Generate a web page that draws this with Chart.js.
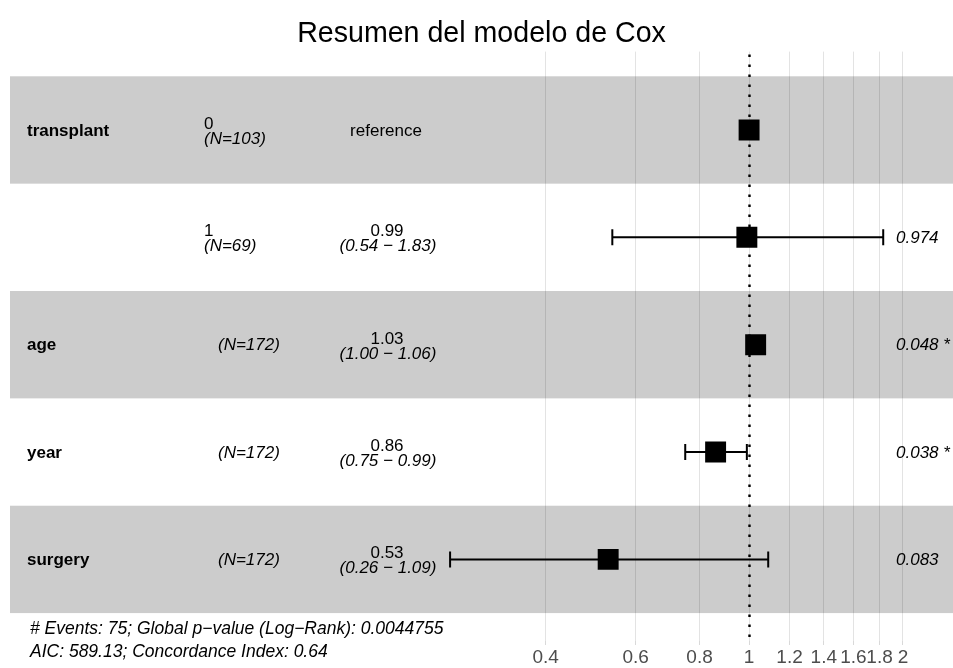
<!DOCTYPE html>
<html>
<head>
<meta charset="utf-8">
<script src="https://cdn.jsdelivr.net/npm/chart.js@4"></script>
<style>
    html, body { margin: 0; padding: 0; background: #ffffff; }
    #wrap { width: 953px; height: 668px; }
</style>
</head>
<body>
<div id="wrap"><canvas id="forestChart" width="953" height="668"></canvas></div>
<script>
// Cox model rows, top to bottom
const variables = ["transplant", "", "age", "year", "surgery"]
const levels = ["0", "1", "", "", ""]
const counts = [103, 69, 172, 172, 172]
const hazardRatios = [1, 0.99, 1.03, 0.86, 0.53]
const ciLower = [null, 0.54, 1.00, 0.75, 0.26]
const ciUpper = [null, 1.83, 1.06, 0.99, 1.09]
const pValues = ["", "0.974", "0.048 *", "0.038 *", "0.083"]
const xTicks = [0.4, 0.6, 0.8, 1, 1.2, 1.4, 1.6, 1.8, 2]

const footerLines = [
    "# Events: 75; Global p\u2212value (Log\u2212Rank): 0.0044755",
    "AIC: 589.13; Concordance Index: 0.64"
]

const FONT = "'Liberation Sans', Arial, Helvetica, sans-serif"
const rowPositions = hazardRatios.map((_, i) => i + 1)

// grey bands behind odd rows
const bandsPlugin = {
    id: "bands",
    beforeDraw(chart) {
        const { ctx, chartArea, scales } = chart
        ctx.save()
        ctx.fillStyle = "#cccccc"
        rowPositions.forEach((pos, i) => {
            if (i % 2 !== 0) return
            const top = scales.y.getPixelForValue(pos - 0.5)
            const bottom = scales.y.getPixelForValue(pos + 0.5)
            ctx.fillRect(chartArea.left, top, chartArea.right - chartArea.left, bottom - top)
        })
        ctx.restore()
    }
}

// dotted line at HR = 1 and the confidence interval whiskers
const whiskerPlugin = {
    id: "whiskers",
    beforeDatasetsDraw(chart) {
        const { ctx, chartArea, scales } = chart
        ctx.save()
        const x1 = Math.round(scales.x.getPixelForValue(1)) + 0.5
        ctx.strokeStyle = "#000000"
        ctx.lineWidth = 2.4
        ctx.setLineDash([2.4, 7.6])
        ctx.beginPath()
        ctx.moveTo(x1, chartArea.top + 3)
        ctx.lineTo(x1, chartArea.bottom)
        ctx.stroke()
        ctx.setLineDash([])

        ctx.lineWidth = 2
        rowPositions.forEach((pos, i) => {
            if (ciLower[i] === null) return
            const y = scales.y.getPixelForValue(pos)
            const xl = scales.x.getPixelForValue(ciLower[i])
            const xr = scales.x.getPixelForValue(ciUpper[i])
            ctx.beginPath()
            ctx.moveTo(xl, y)
            ctx.lineTo(xr, y)
            ctx.moveTo(xl, y - 8)
            ctx.lineTo(xl, y + 8)
            ctx.moveTo(xr, y - 8)
            ctx.lineTo(xr, y + 8)
            ctx.stroke()
        })
        ctx.restore()
    }
}

// table columns on the left, p-values on the right, model summary at the bottom
const tablePlugin = {
    id: "table",
    afterDraw(chart) {
        const { ctx, scales } = chart
        ctx.save()
        ctx.fillStyle = "#000000"
        rowPositions.forEach((pos, i) => {
            const y = scales.y.getPixelForValue(pos)

            ctx.textBaseline = "middle"
            ctx.textAlign = "left"
            ctx.font = `bold 17px ${FONT}`
            if (variables[i]) ctx.fillText(variables[i], 27, y + 1)

            const nText = `(N=${counts[i]})`
            if (levels[i]) {
                ctx.textBaseline = "alphabetic"
                ctx.font = `17px ${FONT}`
                ctx.fillText(levels[i], 204, y - 1)
                ctx.font = `italic 17px ${FONT}`
                ctx.fillText(nText, 204, y + 14)
            } else {
                ctx.font = `italic 17px ${FONT}`
                ctx.fillText(nText, 218, y + 1)
            }

            ctx.textAlign = "center"
            if (ciLower[i] === null) {
                ctx.textBaseline = "middle"
                ctx.font = `17px ${FONT}`
                ctx.fillText("reference", 386, y + 1)
            } else {
                ctx.textBaseline = "alphabetic"
                ctx.font = `17px ${FONT}`
                ctx.fillText(hazardRatios[i].toFixed(2), 387, y - 1)
                ctx.font = `italic 17px ${FONT}`
                ctx.fillText(`(${ciLower[i].toFixed(2)} \u2212 ${ciUpper[i].toFixed(2)})`, 388, y + 14)
            }

            if (pValues[i]) {
                ctx.textAlign = "left"
                ctx.textBaseline = "middle"
                ctx.font = `italic 17px ${FONT}`
                ctx.fillText(pValues[i], 896, y + 1)
            }
        })

        ctx.textAlign = "left"
        ctx.textBaseline = "alphabetic"
        ctx.font = `italic 17.5px ${FONT}`
        ctx.fillText(footerLines[0], 30, 634)
        ctx.fillText(footerLines[1], 30, 657)
        ctx.restore()
    }
}

new Chart(document.getElementById("forestChart"), {
    type: "scatter",
    data: {
        datasets: [{
            data: hazardRatios.map((hr, i) => ({ x: hr, y: rowPositions[i] })),
            pointStyle: "rect",
            pointRadius: 14.8,
            pointHoverRadius: 14.8,
            backgroundColor: "#000000",
            borderWidth: 0
        }]
    },
    plugins: [bandsPlugin, whiskerPlugin, tablePlugin],
    options: {
        responsive: false,
        animation: false,
        events: [],
        layout: { autoPadding: false, padding: { left: 10, right: 0, top: 0, bottom: 0 } },
        plugins: {
            legend: { display: false },
            tooltip: { enabled: false },
            title: {
                display: true,
                text: "Resumen del modelo de Cox",
                color: "#000000",
                font: { family: FONT, size: 28.6, weight: "normal", lineHeight: 1 },
                padding: { top: 20, bottom: 3 }
            }
        },
        scales: {
            x: {
                type: "logarithmic",
                min: 0.0358,
                max: 2.506,
                afterBuildTicks(scale) {
                    scale.ticks = xTicks.map((value) => ({ value }))
                },
                afterFit(scale) {
                    scale.height = 27
                },
                grid: {
                    color: "rgba(0, 0, 0, 0.11)",
                    lineWidth: 1,
                    drawTicks: true,
                    tickLength: 4,
                    tickColor: "rgba(0, 0, 0, 0.15)"
                },
                border: { display: false },
                ticks: {
                    autoSkip: false,
                    maxRotation: 0,
                    padding: 3,
                    color: "#4d4d4d",
                    font: { family: FONT, size: 19, lineHeight: 1 },
                    callback: (value) => String(value)
                }
            },
            y: {
                type: "linear",
                display: false,
                reverse: true,
                min: 0.27,
                max: 5.76
            }
        }
    }
})
</script>
</body>
</html>
